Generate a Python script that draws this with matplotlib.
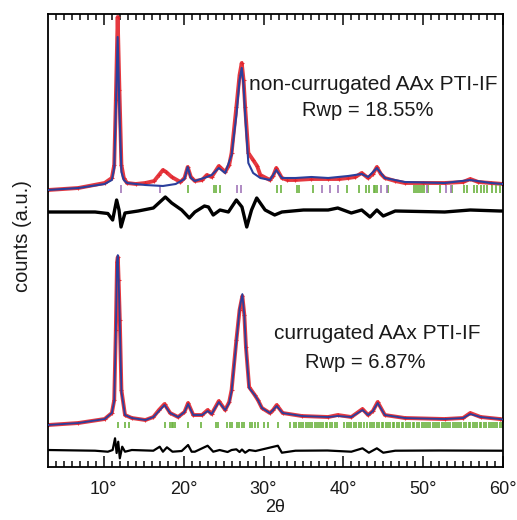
import numpy as np
import matplotlib
matplotlib.use("Agg")
import matplotlib.pyplot as plt

plt.rcParams['font.family'] = ['Liberation Sans', 'DejaVu Sans']

# ---- upper pattern: non-currugated AAx PTI-IF ----
up_x = [3.0, 6.8, 10.1, 11.0, 11.3, 11.5, 11.73, 11.95, 12.2, 12.5, 12.9, 14.0, 15.2, 16.3,
        16.9, 17.4, 17.8, 18.5, 19.6, 20.1, 20.5, 20.9, 21.4, 22.3, 22.9, 23.5, 24.4, 25.2,
        25.7, 26.0, 26.6, 27.0, 27.27, 27.5, 27.7, 28.1, 28.7, 29.2, 29.6, 30.8, 31.2, 31.6,
        32.3, 33.0, 34.0, 36.0, 38.1, 39.5, 40.6, 41.5, 42.3, 43.1, 43.7, 44.2, 44.7, 45.2,
        46.5, 47.7, 50.0, 52.7, 55.0, 55.9, 56.9, 58.5, 60.0]
up_obs = [2, 4, 9, 14, 27, 92, 175, 102, 27, 14, 9, 8, 9, 11,
          17, 22, 20, 15, 10, 14, 25, 15, 11, 12, 17, 15, 26, 20,
          27, 39, 85, 117, 129, 112, 85, 39, 32, 26, 17, 12, 16, 24,
          14, 12, 12, 13, 13, 13, 14, 15, 19, 14, 18, 25, 18, 14,
          11, 9, 9, 9, 10, 13, 10, 9, 8]

upc_x = [3.0, 6.8, 10.1, 11.0, 11.3, 11.5, 11.73, 11.95, 12.2, 12.5, 12.9, 15.2, 17.4, 19.0,
         20.1, 20.5, 20.9, 21.4, 22.9, 23.5, 24.4, 25.2, 26.0, 26.6, 27.0, 27.27, 27.5, 27.7,
         28.1, 28.7, 29.6, 30.8, 31.6, 32.3, 34.0, 36.0, 38.1, 40.6, 42.3, 43.1, 44.2, 45.2,
         47.7, 52.7, 55.9, 58.5, 60.0]
up_calc = [2, 4, 8, 12, 24, 82, 155, 82, 20, 12, 9, 7, 6, 8,
           13, 25, 14, 11, 15, 17, 24, 19, 37, 77, 112, 124, 107, 77,
           29, 19, 14, 12, 22, 14, 14, 15, 14, 16, 18, 15, 24, 14,
           10, 9, 12, 9, 8]

upd_x = [3.0, 8.9, 10.5, 11.1, 11.6, 11.9, 12.15, 12.65, 14.3, 16.2, 17.7, 18.5, 19.75, 20.7,
         21.4, 22.6, 23.1, 23.7, 24.55, 25.6, 26.6, 27.3, 27.9, 28.5, 29.15, 30.2, 31.4, 32.3,
         35.0, 38.1, 39.3, 41.0, 42.3, 43.35, 44.2, 45.0, 46.5, 52.7, 55.9, 59.6, 60.0]
up_diff = [0, 0, -1.5, -8, 12, 2, -15, -1, 1, 4, 15, 9, 2, -6,
           0, 6, 5, -3, 2, 0, 12, 5, -15, 2, 14, 2, -3, 0,
           2, 2, 4, -1, 2, -5, 2, -4, 1, 0, 2, 1, 1]

up_purple = [12.15, 17.0, 26.7, 27.15, 37.3, 38.3, 39.3, 44.7, 45.45, 50.45, 52.8, 53.45]
up_green = [20.55, 23.85, 24.1, 24.55, 31.7, 32.15, 34.2, 34.5, 36.2, 40.5, 41.9, 42.9, 43.2,
            43.8, 44.0, 44.2, 45.55, 48.8, 49.1, 49.35, 49.6, 49.85, 50.1, 50.65, 52.05, 53.6,
            55.1, 55.45, 56.35, 56.75, 57.2, 57.6, 58.0, 58.6, 59.1, 59.65]

# ---- lower pattern: currugated AAx PTI-IF ----
lo_x = [3.0, 6.8, 10.1, 11.0, 11.3, 11.5, 11.65, 11.75, 11.85, 12.0, 12.2, 12.65, 13.5, 15.2,
        16.2, 16.9, 17.6, 18.3, 19.3, 20.1, 20.55, 21.2, 22.3, 23.0, 23.5, 24.4, 25.2, 25.7,
        26.0, 26.6, 27.0, 27.35, 27.6, 27.8, 28.2, 28.9, 29.3, 29.8, 30.8, 31.2, 31.65, 32.4,
        34.8, 38.1, 39.3, 41.0, 42.4, 43.1, 43.7, 44.3, 45.2, 47.7, 52.7, 55.0, 55.9, 57.2,
        59.6, 60.0]
lo_obs = [3, 5, 9, 15, 28, 98, 166, 171, 148, 108, 38, 13, 10, 8,
          11, 18, 24, 15, 11, 16, 25, 13, 13, 18, 14, 27, 18, 26,
          38, 88, 118, 132, 113, 81, 41, 33, 28, 20, 15, 18, 23, 15,
          12, 11, 13, 11, 19, 13, 17, 26, 13, 10, 9, 10, 15, 11,
          9, 8.5]
lo_calc = [3, 5, 9, 15, 27, 96, 168, 173, 150, 105, 36, 13, 10, 8,
           11, 17, 23, 15, 11, 16, 24, 13, 13, 17, 14, 26, 18, 25,
           37, 86, 119, 134, 112, 80, 40, 33, 28, 20, 15, 18, 22, 15,
           12, 11, 12, 11, 18, 13, 17, 25, 13, 10, 9, 10, 14, 11,
           9, 8.5]

lod_x = [3.0, 8.9, 10.5, 11.1, 11.4, 11.6, 11.8, 12.0, 12.3, 12.65, 13.5, 16.2, 17.0, 17.4,
         17.9, 18.6, 19.75, 20.55, 21.0, 21.4, 23.0, 23.7, 24.5, 25.5, 26.0, 26.6, 27.0, 27.3,
         27.7, 28.2, 29.0, 31.8, 32.3, 34.0, 38.0, 41.0, 42.4, 43.2, 44.2, 45.0, 46.5, 52.0,
         59.6, 60.0]
lo_diff = [1, 0.3, -0.7, 1, 12.7, -2, 9.3, -7.3, 4.3, -0.7, 1, 0.3, 4.3, -0.7,
           3.7, -0.7, 0, 6, -0.7, -0.7, 5.3, -0.7, 1, -1, 1, 1.7, -1, 1.5,
           -1.7, 1, 0, 5.3, -1.7, 0.3, 0.5, -0.7, 2.7, -1.7, 2.7, -1.7, 0.3, 0.5,
           0.3, 0.3]

lo_green = [11.73, 12.65, 13.15, 17.6, 18.3, 18.5, 18.7, 18.9, 20.55, 22.2, 24.0, 24.35,
            25.4, 25.8, 26.1, 26.65, 26.95, 27.3, 27.6, 28.3, 28.6, 28.95, 29.3, 30.05, 30.6,
            31.85, 33.3, 33.8, 34.1, 34.4, 34.7, 35.0, 35.3, 35.6, 35.8, 36.1, 36.4, 36.7,
            36.9, 37.2, 37.5, 37.8, 38.0, 38.3, 38.6, 38.9, 39.2, 40.1, 40.4, 40.7, 41.0,
            41.3, 41.6, 41.9, 42.2, 42.6, 43.0, 43.3, 43.6, 43.9, 44.2, 44.5, 44.8, 45.0,
            45.3, 45.6, 45.9, 46.2, 46.4, 46.7, 47.0, 47.3, 47.5, 47.8, 48.1, 48.4, 48.7,
            48.9, 49.2, 49.5, 49.8, 50.1, 50.3, 50.6, 50.9, 51.2, 51.5, 51.7, 52.0, 52.3,
            52.6, 52.9, 53.1, 53.4, 53.7, 54.0, 54.3, 54.5, 54.8, 55.1, 55.4, 55.7, 55.9,
            56.2, 56.5, 56.8, 57.1, 57.3, 57.6, 57.9, 58.2, 58.5, 58.7, 59.0, 59.3, 59.6, 59.9]

xticks = [10, 20, 30, 40, 50, 60]
xtick_labels = ['10°', '20°', '30°', '40°', '50°', '60°']

# vertical offsets of the stacked traces
off_up, off_up_diff = 275, 255
off_lo, off_lo_diff = 39, 16

RED = '#e3232b'
BLUE = '#2b3f9c'
GREEN = '#6cb33f'
PURPLE = '#a277b9'
TXT = '#1a1a1a'

fig = plt.figure(figsize=(5.17, 5.20), dpi=100)
ax = fig.add_axes([0.0928, 0.1019, 0.8801, 0.8712])

# upper
ax.plot(up_x, np.array(up_obs) + off_up, color=RED, lw=2.8, alpha=0.9,
        marker='+', ms=3, mew=0.8, zorder=2)
ax.plot(upc_x, np.array(up_calc) + off_up, color=BLUE, lw=1.5, zorder=3)
ax.plot(upd_x, np.array(up_diff) + off_up_diff, color='black', lw=2.4, zorder=3)
ax.vlines(up_green, off_up - 1, off_up + 7, color=GREEN, lw=1.2)
ax.vlines(up_purple, off_up - 1, off_up + 7, color=PURPLE, lw=1.2)

# lower
ax.plot(lo_x, np.array(lo_obs) + off_lo, color=RED, lw=2.8, alpha=0.9,
        marker='+', ms=3, mew=0.8, zorder=2)
ax.plot(lo_x, np.array(lo_calc) + off_lo, color=BLUE, lw=1.3, zorder=3)
ax.plot(lod_x, np.array(lo_diff) + off_lo_diff, color='black', lw=1.6, zorder=3)
ax.vlines(lo_green, off_lo, off_lo + 6, color=GREEN, lw=1.2)

ax.text(43.8, 382, 'non-currugated AAx PTI-IF', fontsize=15, ha='center', va='center', color=TXT)
ax.text(43.1, 356, 'Rwp = 18.55%', fontsize=14.5, ha='center', va='center', color=TXT)
ax.text(44.2, 134, 'currugated AAx PTI-IF', fontsize=15, ha='center', va='center', color=TXT)
ax.text(42.7, 105, 'Rwp = 6.87%', fontsize=14.5, ha='center', va='center', color=TXT)

ax.set_xlim(3, 60)
ax.set_ylim(0, 453)
ax.set_xticks(xticks, xtick_labels)
ax.set_xticks(np.arange(4, 60, 1), minor=True)
ax.set_yticks([])
ax.tick_params(axis='x', which='both', direction='in', top=True, bottom=True,
               labelsize=13, pad=10, width=1.2, colors=TXT)
ax.tick_params(axis='x', which='major', length=8)
ax.tick_params(axis='x', which='minor', length=4)
for s in ax.spines.values():
    s.set_linewidth(1.3)
ax.set_xlabel('2θ', fontsize=13, labelpad=1, color=TXT)
ax.set_ylabel('counts (a.u.)', fontsize=14.5, color=TXT)
ax.yaxis.set_label_coords(-0.035, 0.51)

fig.savefig('out.png', dpi=100)
